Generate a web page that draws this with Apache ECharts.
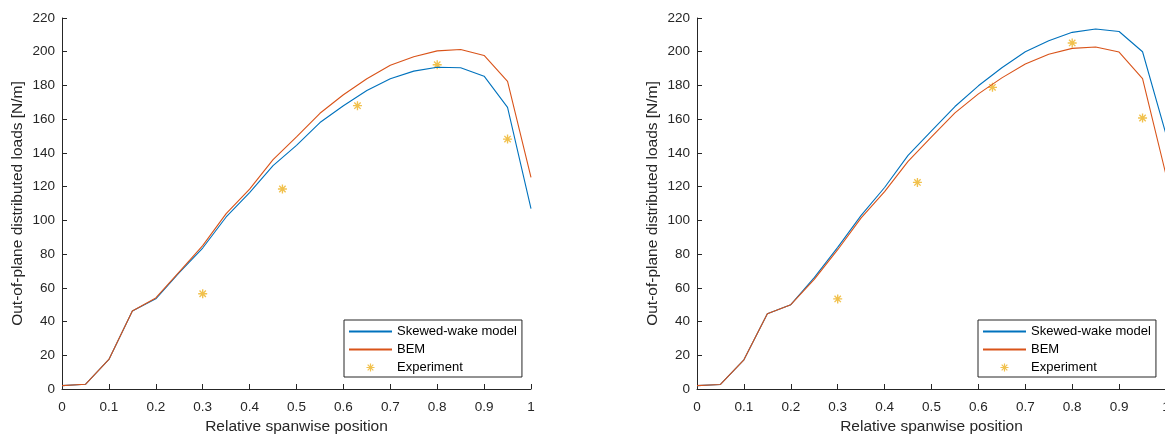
<!DOCTYPE html>
<html>
<head>
<meta charset="utf-8">
<script src="https://cdn.jsdelivr.net/npm/echarts@6/dist/echarts.min.js"></script>
<style>
  html, body { margin: 0; padding: 0; background: #fff; }
  #chart { width: 1165px; height: 435px; }
</style>
</head>
<body>
<div id="chart"></div>
<script>
// spanwise stations of the computed curves
const spanPos = [0, 0.05, 0.1, 0.15, 0.2, 0.25, 0.3, 0.35, 0.4, 0.45, 0.5,
                 0.55, 0.6, 0.65, 0.7, 0.75, 0.8, 0.85, 0.9, 0.95, 1];
// measured stations
const expPos = [0.3, 0.47, 0.63, 0.8, 0.95];

// left panel
const skewedLeft = [2, 2.8, 17.5, 46.2, 53.5, 69, 83.6, 102, 116.5, 132.5, 144.5,
                    158, 168, 177, 184, 188.5, 190.8, 190.5, 185.5, 167, 107];
const bemLeft = [2, 2.8, 17.5, 46.2, 54, 69.5, 85, 104, 118.5, 136, 149.5,
                 163.5, 174.5, 184, 192, 197, 200.5, 201.3, 197.8, 182.4, 125.5];
const expLeft = [56.5, 118.6, 168, 192.3, 148.2];

// right panel
const skewedRight = [2, 2.7, 17.3, 44.6, 50, 66, 84, 103, 119.5, 138.5, 153,
                     167.5, 179.8, 190.5, 200, 206.5, 211.5, 213.5, 212, 200, 151];
const bemRight = [2, 2.7, 17.3, 44.6, 50, 65, 82.6, 101.5, 117, 135, 149.5,
                  163.7, 175, 184.5, 192.7, 198.5, 202, 202.8, 199.8, 184, 127];
const expRight = [53.4, 122.5, 178.9, 205.2, 160.7];

const xTitle = 'Relative spanwise position';
const yTitle = 'Out-of-plane distributed loads [N/m]';
const names = ['Skewed-wake model', 'BEM', 'Experiment'];

const FONT = '"Liberation Sans", Arial, sans-serif';
const AX = '#262626';
const BLUE = '#0072BD', ORANGE = '#D95319', YELLOW = '#EDB120';

// asterisk marker like matlab '*'
const STAR = 'path://M-5,-0.75L5,-0.75L5,0.75L-5,0.75Z' +
  'M-0.75,-5L0.75,-5L0.75,5L-0.75,5Z' +
  'M-3.01,-4.07L4.07,3.01L3.01,4.07L-4.07,-3.01Z' +
  'M-4.07,3.01L3.01,-4.07L4.07,-3.01L-3.01,4.07Z';

const pairs = (xs, ys) => xs.map((x, i) => [x, ys[i]]);

function xAxis(gi) {
  return {
    type: 'value', gridIndex: gi, min: 0, max: 1, interval: 0.1,
    name: xTitle, nameLocation: 'middle', nameGap: 29,
    nameTextStyle: { fontFamily: FONT, fontSize: 15.5, color: AX },
    axisLine: { lineStyle: { color: AX, width: 1 } },
    axisTick: { inside: true, length: 5, lineStyle: { color: AX } },
    axisLabel: { fontFamily: FONT, fontSize: 13.5, color: AX, margin: 11,
      formatter: v => String(+v.toFixed(1)) },
    splitLine: { show: false }
  };
}

function yAxis(gi) {
  return {
    type: 'value', gridIndex: gi, min: 0, max: 220, interval: 20,
    name: yTitle, nameLocation: 'middle', nameGap: 36,
    nameTextStyle: { fontFamily: FONT, fontSize: 15.5, color: AX },
    axisLine: { show: true, lineStyle: { color: AX, width: 1 } },
    axisTick: { show: true, inside: true, length: 5, lineStyle: { color: AX } },
    axisLabel: { fontFamily: FONT, fontSize: 13.5, color: AX, margin: 7 },
    splitLine: { show: false }
  };
}

function lineSeries(name, gi, ys, color) {
  return {
    name: name, type: 'line', xAxisIndex: gi, yAxisIndex: gi,
    data: pairs(spanPos, ys), symbol: 'none', showSymbol: false,
    lineStyle: { color: color, width: 1.1 }, itemStyle: { color: color }
  };
}

function expSeries(gi, ys) {
  return {
    name: names[2], type: 'scatter', xAxisIndex: gi, yAxisIndex: gi,
    data: pairs(expPos, ys), symbol: STAR, symbolSize: 9,
    itemStyle: { color: YELLOW }
  };
}

function legend(left) {
  return {
    data: [
      { name: names[0], icon: 'inherit', itemStyle: { opacity: 0 } },
      { name: names[1], icon: 'inherit', itemStyle: { opacity: 0 } },
      { name: names[2], icon: STAR }
    ],
    orient: 'vertical', left: left, top: 320,
    itemWidth: 43, itemHeight: 8, itemGap: 5,
    padding: [5, 5, 3, 4],
    borderColor: AX, borderWidth: 1, backgroundColor: '#fff',
    textStyle: { fontFamily: FONT, fontSize: 13, color: '#000' },
    selectedMode: false
  };
}

const chart = echarts.init(document.getElementById('chart'));
chart.setOption({
  animation: false,
  backgroundColor: '#fff',
  grid: [
    { left: 62, top: 18, width: 469, height: 371, outerBoundsMode: 'none', containLabel: false },
    { left: 697, top: 18, width: 469, height: 371, outerBoundsMode: 'none', containLabel: false }
  ],
  xAxis: [xAxis(0), xAxis(1)],
  yAxis: [yAxis(0), yAxis(1)],
  legend: [legend(344), legend(978)],
  series: [
    lineSeries(names[0], 0, skewedLeft, BLUE),
    lineSeries(names[1], 0, bemLeft, ORANGE),
    expSeries(0, expLeft),
    lineSeries(names[0], 1, skewedRight, BLUE),
    lineSeries(names[1], 1, bemRight, ORANGE),
    expSeries(1, expRight)
  ]
});
</script>
</body>
</html>
